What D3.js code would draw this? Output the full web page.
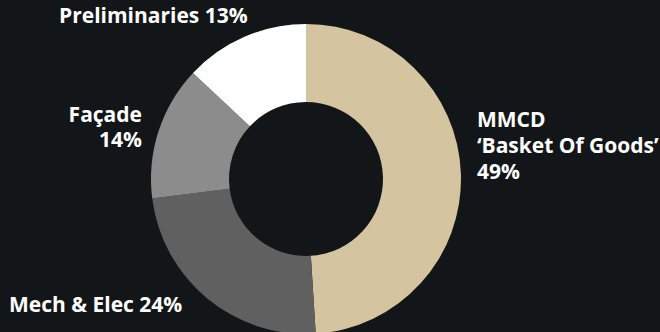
<!DOCTYPE html>
<html>
<head>
<meta charset="utf-8">
<script src="https://cdn.jsdelivr.net/npm/d3@7/dist/d3.min.js"></script>
<style>
  html, body { margin: 0; padding: 0; background: #131618; }
  svg { display: block; }
  text { font-family: "Open Sans", "Noto Sans", sans-serif; font-weight: 700; fill: #ffffff; }
</style>
</head>
<body>
<svg id="chart" width="660" height="332"></svg>
<script>
// Cost breakdown shares (percent), clockwise from 12 o'clock
const categories = ["MMCD", "Mech & Elec", "Façade", "Preliminaries"];
const shares = [49, 24, 14, 13];
const labelLines = [
  ["MMCD", "\u2018Basket Of Goods\u2019", "49%"],
  ["Mech & Elec 24%"],
  ["Façade", "14%"],
  ["Preliminaries 13%"]
];

const width = 660, height = 332;
const cx = 306, cy = 179;
const outerR = 155, innerR = 77;

const colour = d3.scaleOrdinal()
  .domain(categories)
  .range(["#d4c4a0", "#606060", "#8c8c8c", "#ffffff"]);

const svg = d3.select("#chart");
const g = svg.append("g").attr("transform", `translate(${cx},${cy})`);

const pie = d3.pie().sort(null).value(d => d.value);
const arcs = pie(categories.map((c, i) => ({ key: c, value: shares[i] })));
const arc = d3.arc().innerRadius(innerR).outerRadius(outerR);

g.selectAll("path.slice")
  .data(arcs)
  .join("path")
  .attr("class", "slice")
  .attr("d", arc)
  .attr("fill", d => colour(d.data.key));

// Label placement for each slice: anchor point relative to the centre
const fontSize = 21;
const labelLayout = {
  "MMCD":          { x: 171,  y: -52,  anchor: "start", lineH: 26.2 },
  "Mech & Elec":   { x: -297, y: 133,  anchor: "start", lineH: 25 },
  "Façade":        { x: -164, y: -57,  anchor: "end",   lineH: 25 },
  "Preliminaries": { x: -247, y: -156, anchor: "start", lineH: 25 }
};

const labels = svg.append("g").attr("transform", `translate(${cx},${cy})`);
arcs.forEach((a, i) => {
  const L = labelLayout[a.data.key];
  const t = labels.append("text")
    .attr("x", L.x)
    .attr("y", L.y)
    .attr("text-anchor", L.anchor)
    .attr("font-size", fontSize);
  labelLines[i].forEach((line, j) => {
    t.append("tspan")
      .attr("x", L.x)
      .attr("y", L.y + j * L.lineH)
      .text(line);
  });
});
</script>
</body>
</html>
